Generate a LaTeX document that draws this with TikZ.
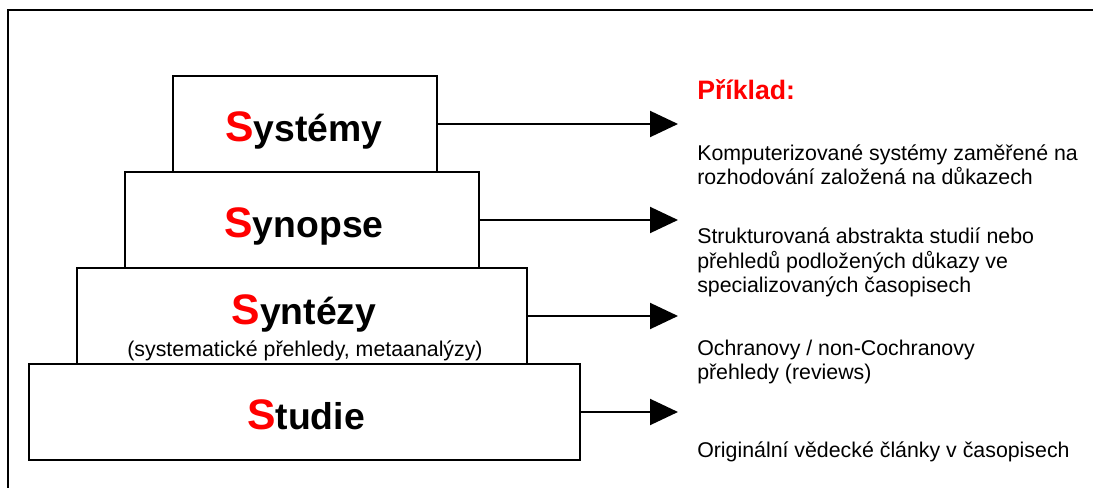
\documentclass[tikz,border=0pt]{standalone}
\usepackage{fontspec}
\setmainfont{Liberation Sans}
\usetikzlibrary{arrows.meta}
\usetikzlibrary{positioning}

\newcommand{\redS}{{\fontsize{32}{38}\selectfont\color{red}S}}

\tikzset{
 tier/.style={draw, line width=1.5pt, inner sep=0pt, minimum height=72pt},
 tiername/.style={font=\fontsize{28}{34}\selectfont\bfseries, inner sep=0pt, anchor=base},
 example/.style={font=\fontsize{16}{18.4}\selectfont, align=left, inner sep=0pt, anchor=base west},
 arr/.style={line width=1.5pt, -{Triangle[length=21pt, width=19.5pt]}}
}

\begin{document}
\begin{tikzpicture}[x=0.75pt, y=-0.75pt]
 \useasboundingbox (0,0) rectangle (1093,488);
 \clip (0,0) rectangle (1093,488);
 % frame, cut off on the right and at the bottom
 \draw[line width=1.5pt] (1120,10) -- (8,10) -- (8,520);

 % the four tiers
 \node[tier, minimum width=198pt] (systemy) at (305,124) {};
 \node[tier, minimum width=265.5pt] (synopse) at (302,220) {};
 \node[tier, minimum width=337.5pt] (syntezy) at (302,316) {};
 \node[tier, minimum width=413.25pt] (studie) at (304.5,412) {};

 \node[tiername] (lsystemy) at (304,141.7) {\redS ystémy};
 \node[tiername] (lsynopse) at (304,237.3) {\redS ynopse};
 \node[tiername] (lsyntezy) at (304,325) {\redS yntézy};
 \node[font=\fontsize{16}{18.4}\selectfont, inner sep=0pt, anchor=base] (lsub) at (305,356.7) {(systematické přehledy, metaanalýzy)};
 \node[tiername] (lstudie) at (306,430) {\redS tudie};

 % arrows
 \coordinate (e1) at (678,124);
 \coordinate (e2) at (678,220);
 \coordinate (e3) at (678,316);
 \coordinate (e4) at (678,412);
 \draw[arr] (systemy.east) -- (e1);
 \draw[arr] (synopse.east) -- (e2);
 \draw[arr] (syntezy.east) -- (e3);
 \draw[arr] (studie.east) -- (e4);

 % examples
 \node[font=\fontsize{20}{24}\selectfont\bfseries, text=red, inner sep=0pt, anchor=base west] (priklad) at (697,100) {Příklad:};
 \node[example] (x1) at (697,185) {Komputerizované systémy zaměřené na\\rozhodování založená na důkazech};
 \node[example] (x2) at (697,293) {Strukturovaná abstrakta studií nebo\\přehledů podložených důkazy ve\\specializovaných časopisech};
 \node[example] (x3) at (697,380) {Ochranovy / non-Cochranovy\\přehledy (reviews)};
 \node[example] (x4) at (697,457) {Originální vědecké články v časopisech};
\end{tikzpicture}
\end{document}
